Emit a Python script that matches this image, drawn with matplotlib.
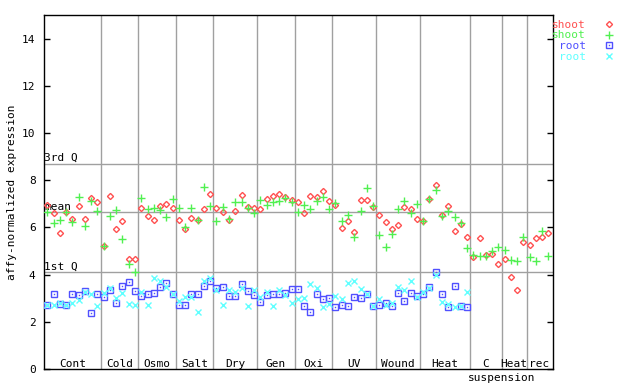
import matplotlib
matplotlib.use("Agg")
import matplotlib.pyplot as plt
from matplotlib.lines import Line2D
import numpy as np

# === Dati ===
groups = ["Cont", "Cold", "Osmo", "Salt", "Dry", "Gen", "Oxi", "UV",
          "Wound", "Heat", "C", "Heat", "rec"]
group_sizes = [9, 6, 6, 6, 7, 6, 6, 7, 7, 8, 5, 4, 4]

shoot_red = [6.97, 6.60, 5.75, 6.67, 6.35, 6.89, 6.34, 7.24, 7.06,
             5.23, 7.32, 5.92, 6.26, 4.65, 4.65,
             6.84, 6.50, 6.33, 6.90, 6.98, 6.84,
             6.30, 5.92, 6.38, 6.33, 6.76, 7.43,
             6.84, 6.66, 6.30, 6.71, 7.36, 6.85, 6.84,
             6.76, 7.22, 7.31, 7.40, 7.27, 7.18,
             7.06, 6.63, 7.31, 7.27, 7.56, 7.10,
             6.97, 5.96, 6.26, 5.79, 7.14, 7.18, 6.85,
             6.51, 6.21, 5.92, 6.09, 6.88, 6.80, 6.37,
             6.29, 7.22, 7.81, 6.54, 6.89, 5.83, 6.13, 5.61,
             4.73, 5.57, 4.81, 4.89, 4.47,
             4.64, 3.89, 3.33, 5.37,
             5.24, 5.53, 5.61, 5.76]
shoot_green = [6.64, 6.19, 6.30, 6.67, 6.21, 7.27, 6.05, 7.10, 6.68,
               5.23, 6.47, 6.73, 5.50, 4.43, 4.13,
               7.26, 6.76, 6.81, 6.73, 6.43, 7.22,
               6.81, 6.00, 6.84, 6.30, 7.73, 6.89,
               6.26, 6.85, 6.34, 7.09, 7.09, 6.81, 6.60,
               7.18, 6.93, 7.09, 7.13, 7.26, 7.06,
               6.64, 6.93, 6.76, 7.13, 7.30, 6.76,
               7.05, 6.26, 6.54, 5.58, 6.71, 7.67, 6.92,
               5.66, 5.19, 5.74, 6.76, 7.13, 6.60, 7.01,
               6.27, 7.22, 7.60, 6.48, 6.71, 6.43, 6.20, 5.12,
               4.81, 4.77, 4.77, 4.98, 5.16,
               5.03, 4.61, 4.56, 5.61,
               4.73, 4.56, 5.83, 4.77]
root_blue = [2.70, 3.17, 2.77, 2.70, 3.17, 3.13, 3.30, 2.37, 3.17,
             3.04, 3.35, 2.79, 3.51, 3.68, 3.31,
             3.09, 3.17, 3.21, 3.47, 3.63, 3.17,
             2.71, 2.71, 3.17, 3.17, 3.50, 3.71,
             3.42, 3.47, 3.10, 3.10, 3.59, 3.30, 3.13,
             2.83, 3.13, 3.17, 3.17, 3.21, 3.38,
             3.38, 2.66, 2.41, 3.17, 2.96, 3.00,
             2.62, 2.70, 2.67, 3.04, 3.00, 3.17, 2.67,
             2.71, 2.79, 2.67, 3.21, 2.87, 3.21, 3.11,
             3.17, 3.46, 4.13, 3.17, 2.63, 3.50, 2.67, 2.63]
root_cyan = [2.70, 2.70, 2.79, 2.72, 2.80, 2.92, 3.28, 3.18, 2.68,
             3.22, 3.43, 3.00, 3.22, 2.76, 2.71,
             3.26, 2.71, 3.85, 3.72, 3.47, 3.18,
             2.88, 3.05, 3.05, 2.42, 3.72, 3.85,
             3.35, 2.71, 3.35, 3.26, 3.43, 2.67, 3.35,
             3.05, 3.26, 2.67, 3.35, 3.14, 2.80,
             2.97, 3.01, 3.60, 3.43, 2.64, 2.76,
             3.10, 2.97, 3.64, 3.72, 3.39, 3.16, 2.67,
             2.97, 2.70, 2.80, 3.47, 3.35, 3.72, 3.07,
             3.28, 3.44, 3.97, 2.85, 2.76, 2.63, 2.66, 3.26]

quartiles = {"3rd Q": 8.70, "mean": 6.64, "1st Q": 4.10}

ROSSO, VERDE, BLU, CIANO = "#ff5050", "#50f050", "#5050ff", "#60ffff"
GRIGIO = "#a0a0a0"

plt.rcParams['font.family'] = ['DejaVu Sans Mono']
plt.rcParams['font.size'] = 8

fig = plt.figure(figsize=(6.4, 3.84), dpi=100)
ax = fig.add_axes([44 / 640, 15 / 384, 509 / 640, 354 / 384])

n = len(shoot_red)
x_shoot = np.arange(n)
x_root = np.arange(len(root_blue))

# === Separatori gruppi ===
fine = np.cumsum(group_sizes)
inizio = fine - np.array(group_sizes)
for b in fine[:-1]:
    ax.axvline(b - 0.5, color=GRIGIO, lw=1, zorder=1)

# === Linee quartili ===
for nome, val in quartiles.items():
    ax.axhline(val, color=GRIGIO, lw=1, zorder=1)
    ax.text(-0.53, val + 0.03, nome, ha='left', va='bottom', fontsize=8, zorder=2)

# === Punti ===
stile_rosso = dict(ls='none', marker='D', ms=3.1, mfc='none', mec=ROSSO, mew=1)
stile_verde = dict(ls='none', marker='+', ms=5.5, mec=VERDE, mew=1)
stile_blu = dict(ls='none', marker='s', ms=4.0, mfc='none', mec=BLU, mew=1)
stile_blu_punto = dict(ls='none', marker='s', ms=1, mfc=BLU, mec=BLU, mew=0)
stile_ciano = dict(ls='none', marker='x', ms=3.8, mec=CIANO, mew=1)

ax.plot(x_shoot, shoot_red, zorder=3, **stile_rosso)
ax.plot(x_shoot, shoot_green, zorder=4, **stile_verde)
ax.plot(x_root, root_blue, zorder=5, **stile_blu)
ax.plot(x_root, root_blue, zorder=5, **stile_blu_punto)
ax.plot(x_root, root_cyan, zorder=6, **stile_ciano)

# === Etichette gruppi ===
centri = inizio + (np.array(group_sizes) - 1) / 2
for g, c in zip(groups, centri):
    ax.text(c, 0.22, g, ha='center', va='center', fontsize=8)
    if g == "C":
        ax.text(c + 2.6, -0.38, "suspension", ha='center', va='center',
                fontsize=8, clip_on=False)

# === Assi ===
ax.set_xlim(-0.53, 80.72)
ax.set_ylim(0, 15)
ax.set_xticks([])
ax.set_yticks(range(0, 15, 2))
ax.tick_params(axis='y', direction='in', length=4.5, width=1, right=True, pad=6)
for s in ax.spines.values():
    s.set_linewidth(1)
ax.set_ylabel("affy-normalized expression", fontsize=8)
ax.yaxis.set_label_coords(-0.054, 0.5)

# === Legenda ===
handles = [
    Line2D([], [], **stile_rosso),
    Line2D([], [], **stile_verde),
    (Line2D([], [], **stile_blu), Line2D([], [], **stile_blu_punto)),
    Line2D([], [], **stile_ciano),
]
leg = fig.legend(handles, ["shoot", "shoot", "root", "root"], loc='upper right',
                 bbox_to_anchor=(620 / 640, 1 - 14 / 384), frameon=False,
                 markerfirst=False, handlelength=1, handletextpad=1.6,
                 labelspacing=0.08, borderpad=0, fontsize=8)
for t, col in zip(leg.get_texts(), [ROSSO, VERDE, BLU, CIANO]):
    t.set_color(col)

fig.savefig("out.png", dpi=100)
